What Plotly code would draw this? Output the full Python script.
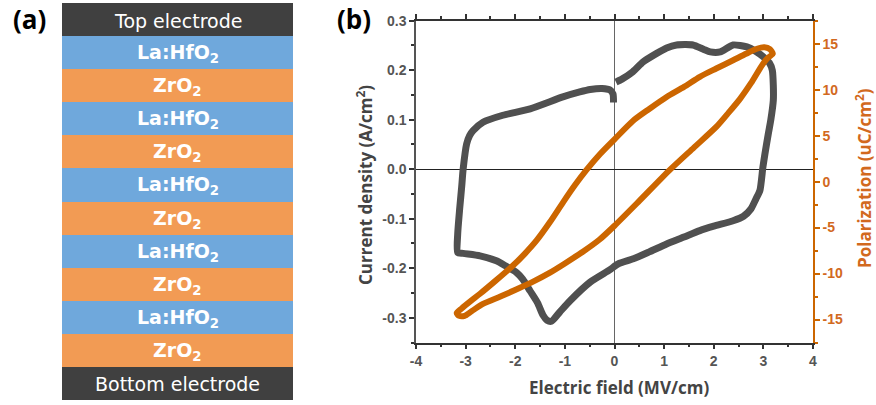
import plotly.graph_objects as go

W, H = 876, 405

# ---------------- data ----------------
layer_names = ["Bottom electrode", "ZrO<sub>2</sub>", "La:HfO<sub>2</sub>", "ZrO<sub>2</sub>", "La:HfO<sub>2</sub>",
               "ZrO<sub>2</sub>", "La:HfO<sub>2</sub>", "ZrO<sub>2</sub>", "La:HfO<sub>2</sub>", "ZrO<sub>2</sub>",
               "La:HfO<sub>2</sub>", "Top electrode"]
layer_kind = ["el", "zr", "la", "zr", "la", "zr", "la", "zr", "la", "zr", "la", "el"]
kind_color = {"el": "#404040", "zr": "#F29B54", "la": "#6FA8DC"}

# Current density (A/cm^2) vs electric field (MV/cm)
j_field = [0.03, 0.15, 0.37, 0.58, 0.85, 1.05, 1.25, 1.58, 1.8, 1.93, 2.13, 2.39, 2.67, 2.85, 3.0, 3.12,
           3.18, 3.2, 3.2, 3.15, 3.1, 3.03, 2.99, 2.93, 2.85, 2.75, 2.6, 2.39, 2.0, 1.72, 1.4, 1.05, 0.7,
           0.38, 0.1, 0.0, -0.09, -0.49, -0.9, -1.1, -1.27, -1.36, -1.44, -1.55, -1.7, -1.85, -1.97, -2.2,
           -2.38, -2.71, -3.05, -3.16, -3.16, -3.12, -3.08, -3.05, -2.98, -2.92, -2.85, -2.65, -2.25, -1.7,
           -1.04, -0.7, -0.49, -0.25, -0.09, -0.03, -0.02]
j_density = [0.176, 0.182, 0.197, 0.217, 0.234, 0.245, 0.251, 0.251, 0.242, 0.237, 0.237, 0.251, 0.247,
             0.238, 0.227, 0.215, 0.2, 0.17, 0.139, 0.1, 0.072, 0.03, 0.004, -0.043, -0.06, -0.08, -0.095,
             -0.104, -0.115, -0.124, -0.137, -0.151, -0.167, -0.181, -0.19, -0.196, -0.203, -0.228, -0.266,
             -0.288, -0.307, -0.305, -0.295, -0.27, -0.246, -0.222, -0.209, -0.195, -0.185, -0.175, -0.17,
             -0.168, -0.131, -0.08, -0.036, 0.0, 0.051, 0.068, 0.078, 0.095, 0.109, 0.122, 0.146, 0.156,
             0.161, 0.163, 0.16, 0.152, 0.135]

# Polarization (uC/cm^2) vs electric field (MV/cm), closed loop starting at E = 0 on the upper branch
p_field = [0.0, 0.37, 0.7, 1.05, 1.4, 1.72, 2.05, 2.39, 2.65, 2.87, 3.02, 3.13, 3.19, 3.1, 2.99, 2.75,
           2.53, 2.3, 2.06, 1.6, 1.12, 0.5, 0.0, -0.3, -0.63, -1.0, -1.3, -1.65, -1.97, -2.3, -2.65, -2.88,
           -3.02, -3.13, -3.18, -3.08, -2.9, -2.71, -2.4, -2.04, -1.8, -1.57, -1.3, -1.03, -0.8, -0.56,
           -0.29, 0.0]
p_pol = [4.6, 6.6, 7.9, 9.2, 10.3, 11.4, 12.3, 13.2, 13.9, 14.45, 14.6, 14.4, 13.9, 13.5, 12.8, 10.7,
         9.0, 7.5, 6.0, 3.7, 1.3, -2.1, -4.8, -6.3, -7.6, -8.9, -9.9, -10.9, -11.7, -12.5, -13.3, -14.1,
         -14.6, -14.6, -14.3, -13.8, -13.0, -12.2, -10.8, -9.1, -7.8, -6.4, -4.4, -2.2, -0.4, 1.3,
         3.0, 4.6]

x_ticks = [-4, -3, -2, -1, 0, 1, 2, 3, 4]
x_ticktext = ["-4", "-3", "-2", "-1", "0", "1", "2", "3", "4"]
j_ticks = [-0.3, -0.2, -0.1, 0.0, 0.1, 0.2, 0.3]
j_ticktext = ["-0.3", "-0.2", "-0.1", "0.0", "0.1", "0.2", "0.3"]
p_ticks = [-15, -10, -5, 0, 5, 10, 15]
p_ticktext = ["-15", "-10", "-5", "0", "5", "10", "15"]

# ---------------- style ----------------
GRAY = "#505050"
ORANGE = "#CC6600"
AXIS = "#333333"
TICKFONT = dict(family="Liberation Sans, Arial", size=14, color="#555555", weight="bold")


def px_x(p):
    return p / W


def px_y(p):
    return 1 - p / H


fig = go.Figure()

# panel (a): layer stack
fig.add_trace(go.Bar(
    x=[1] * len(layer_names), y=list(range(len(layer_names))), orientation="h",
    width=1.0, marker=dict(color=[kind_color[k] for k in layer_kind], line=dict(width=0)),
    xaxis="x3", yaxis="y3", showlegend=False, hoverinfo="skip"))

for i, (name, kind) in enumerate(zip(layer_names, layer_kind)):
    fig.add_annotation(
        x=0.5, y=i, xref="x3", yref="y3", text=name if kind == "el" else "<b>" + name + "</b>",
        showarrow=False, xanchor="center", yanchor="middle",
        font=dict(family="DejaVu Sans", size=19, color="white"),
        yshift=-1)

# panel (b)
fig.add_trace(go.Scatter(x=j_field, y=j_density, mode="lines",
                         line=dict(color=GRAY, width=7, shape="spline", smoothing=0.6),
                         xaxis="x", yaxis="y", showlegend=False))
fig.add_trace(go.Scatter(x=p_field, y=p_pol, mode="lines",
                         line=dict(color=ORANGE, width=6, shape="spline", smoothing=0.7),
                         xaxis="x", yaxis="y2", showlegend=False))

fig.update_layout(
    width=W, height=H, margin=dict(l=0, r=0, t=0, b=0, pad=0), autosize=False,
    paper_bgcolor="white", plot_bgcolor="white",
    xaxis=dict(domain=[px_x(416), px_x(813)], range=[-4, 4], tickmode="array",
               tickvals=x_ticks, ticktext=x_ticktext, ticks="outside", ticklen=5, tickwidth=1.5,
               tickcolor=AXIS, showline=True, linecolor=AXIS, linewidth=1.5, mirror="ticks",
               showgrid=False, zeroline=True, zerolinecolor="#666666", zerolinewidth=1,
               tickfont=TICKFONT, anchor="y", automargin=False,
               minor=dict(dtick=0.5, tick0=0, ticks="outside", ticklen=3, tickcolor=AXIS, tickwidth=1.5)),
    yaxis=dict(domain=[px_y(342.5), px_y(20.7)], range=[-0.35, 0.3], tickmode="array",
               tickvals=j_ticks, ticktext=j_ticktext, ticks="outside", ticklen=5, tickwidth=1.5,
               tickcolor=AXIS, showline=True, linecolor="#555555", linewidth=1.5, mirror=False,
               showgrid=False, zeroline=True, zerolinecolor="#222222", zerolinewidth=1.2,
               tickfont=TICKFONT, anchor="x", automargin=False,
               minor=dict(dtick=0.05, tick0=0, ticks="outside", ticklen=3, tickcolor=AXIS, tickwidth=1.5)),
    yaxis2=dict(overlaying="y", side="right", anchor="x", range=[-17.5, 17.5], tickmode="array",
                tickvals=p_ticks, ticktext=p_ticktext, ticks="outside", ticklen=5, tickwidth=1.5,
                tickcolor=ORANGE, showline=True, linecolor=ORANGE, linewidth=1.5,
                showgrid=False, zeroline=False, automargin=False,
                tickfont=dict(family="Liberation Sans, Arial", size=14, color="#D2691E", weight="bold"),
                minor=dict(dtick=2.5, tick0=0, ticks="outside", ticklen=3, tickcolor=ORANGE, tickwidth=1.5)),
    xaxis3=dict(domain=[px_x(62), px_x(293)], range=[0, 1], visible=False, anchor="y3", fixedrange=True),
    yaxis3=dict(domain=[px_y(400), px_y(3)], range=[-0.5, len(layer_names) - 0.5], visible=False,
                anchor="x3", fixedrange=True),
    bargap=0,
)


# panel labels and axis titles
def paper_text(xp, yp, text, font, angle=0):
    fig.add_annotation(x=px_x(xp), y=px_y(yp), xref="paper", yref="paper", text=text,
                       showarrow=False, xanchor="center", yanchor="middle", textangle=angle, font=font)


paper_text(29, 19, "<b>(a)</b>", dict(family="Open Sans", size=26, color="black"))
paper_text(354, 19, "<b>(b)</b>", dict(family="Open Sans", size=26, color="black"))
paper_text(619, 387, "<b>Electric field (MV/cm)</b>", dict(family="Open Sans", size=17, color="#444444"))
paper_text(364, 185, "<b>Current density (A/cm<sup>2</sup>)</b>",
           dict(family="Open Sans", size=17, color="#444444"), -90)
paper_text(863, 178, "<b>Polarization (uC/cm<sup>2</sup>)</b>",
           dict(family="Open Sans", size=17, color="#D2691E"), -90)

fig.write_html("out.html", post_script="document.body.style.margin='0';")
